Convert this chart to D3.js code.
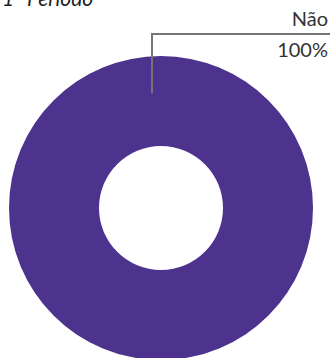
<!DOCTYPE html>
<html>
<head>
<meta charset="utf-8">
<script src="https://cdn.jsdelivr.net/npm/d3@7"></script>
<style>
  html, body { margin: 0; padding: 0; background: #fff; }
</style>
</head>
<body>
<script>
const title = '1º Período'
const categories = ['Não']
const values = [100]
const colors = ['#4e338e']

const width = 330
const height = 358
const cx = 161
const cy = 208
const outerR = 152
const innerR = 62

const svg = d3.select('body')
  .append('svg')
  .attr('width', width)
  .attr('height', height)
  .style('display', 'block')
  .style('font-family', 'Lato, sans-serif')

svg.append('text')
  .text(title)
  .attr('x', 2)
  .attr('y', 6)
  .style('font-style', 'italic')
  .style('font-size', '21px')
  .attr('fill', '#222')

const pie = d3.pie().sort(null).value(d => d)
const arc = d3.arc().innerRadius(innerR).outerRadius(outerR)

const g = svg.append('g')
  .attr('transform', `translate(${cx},${cy})`)

g.selectAll('path')
  .data(pie(values))
  .join('path')
  .attr('d', arc)
  .attr('fill', (_, i) => colors[i])

// leader line from the slice to the label
const total = d3.sum(values)
const lineX = 152
const lineY = 34
svg.append('path')
  .attr('d', `M${lineX},93V${lineY}H${width}`)
  .attr('fill', 'none')
  .attr('stroke', '#757575')
  .attr('stroke-width', 2)

svg.append('text')
  .text(categories[0])
  .attr('x', 328)
  .attr('y', 26)
  .attr('text-anchor', 'end')
  .style('font-size', '20px')
  .attr('fill', '#333')

svg.append('text')
  .text(d3.format('.0%')(values[0] / total))
  .attr('x', 328)
  .attr('y', 57)
  .attr('text-anchor', 'end')
  .style('font-size', '20px')
  .attr('fill', '#333')
</script>
</body>
</html>
